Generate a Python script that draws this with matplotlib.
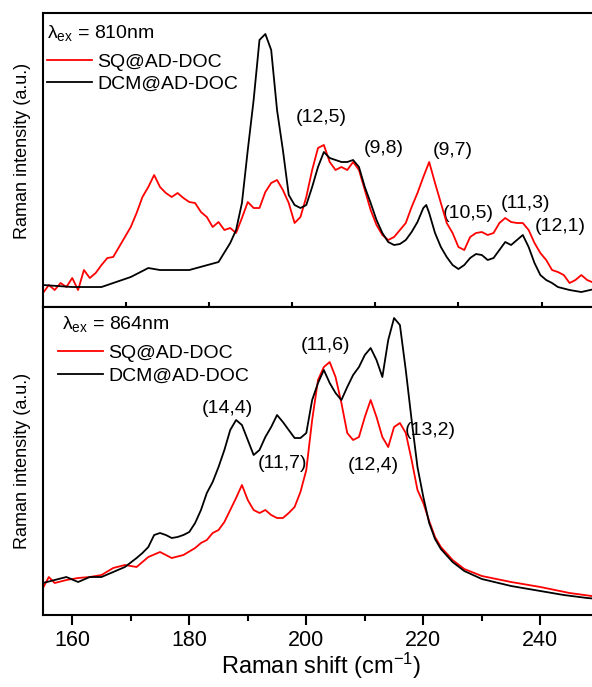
import matplotlib
matplotlib.use('Agg')
import matplotlib.pyplot as plt

plt.rcParams['font.family'] = ['Liberation Sans', 'DejaVu Sans']
plt.rcParams['mathtext.fontset'] = 'custom'
plt.rcParams['mathtext.rm'] = 'Liberation Sans'
plt.rcParams['mathtext.it'] = 'Liberation Sans:italic'

# top panel, 810 nm excitation
top_dcm_x = [155, 160, 165, 170, 173, 175, 180, 185, 187, 188, 189, 190, 191, 192, 193, 194,
             195, 196, 197, 198, 199, 200, 201, 202, 203, 204, 205, 206, 207, 208, 209, 210,
             211, 212, 213, 214, 215, 216, 217, 218, 219, 220, 220.5, 221, 222, 223, 224, 225,
             226, 227, 228, 229, 230, 231, 232, 233, 234, 235, 236, 237, 238, 239, 240, 241,
             242, 243, 245, 247, 250]
top_dcm_y = [22, 20, 20, 30, 39, 37, 37, 45, 64, 77, 104, 157, 207, 267, 273, 257,
             197, 157, 112, 102, 99, 102, 120, 140, 155, 149, 147, 145, 145, 147, 140, 120,
             104, 87, 74, 65, 62, 63, 67, 75, 85, 99, 102, 94, 74, 60, 50, 42,
             38, 42, 49, 53, 52, 47, 49, 57, 65, 62, 67, 72, 60, 44, 32, 27,
             24, 20, 17, 15, 19]

top_sq_x = list(range(155, 249)) + [250]
top_sq_y = [14, 22, 17, 24, 20, 29, 17, 37, 29, 34, 42, 49, 50, 60, 70, 80,
            94, 110, 120, 132, 120, 114, 110, 114, 109, 105, 104, 95, 90, 80, 85, 77,
            79, 74, 89, 105, 99, 99, 115, 124, 127, 117, 104, 84, 90, 110, 137, 159,
            162, 145, 137, 140, 137, 145, 137, 117, 97, 82, 72, 67, 70, 77, 84, 100,
            114, 130, 145, 124, 104, 84, 74, 60, 57, 70, 74, 75, 72, 74, 84, 89,
            85, 84, 84, 77, 64, 54, 47, 37, 35, 32, 24, 27, 32, 27, 22]

# bottom panel, 864 nm excitation
bot_dcm_x = [155, 157, 159, 161, 163, 165, 167, 169, 171, 172, 173, 174, 175, 176, 177, 178,
             179, 180, 181, 182, 183, 184, 185, 186, 187, 188, 189, 190, 191, 192, 193, 194,
             195, 196, 197, 198, 199, 200, 201, 202, 203, 204, 205, 206, 207, 208, 209, 210,
             211, 212, 213, 214, 215, 216, 217, 218, 219, 220, 221, 222, 223, 225, 227, 230,
             235, 240, 244, 248, 250]
bot_dcm_y = [32, 35, 38, 33, 38, 38, 43, 48, 57, 62, 68, 80, 82, 80, 77, 78,
             80, 83, 92, 105, 122, 133, 148, 165, 185, 195, 190, 175, 160, 165, 178, 188,
             200, 193, 185, 177, 177, 182, 215, 232, 245, 232, 222, 215, 228, 240, 248, 260,
             267, 255, 238, 275, 297, 290, 245, 195, 148, 118, 92, 76, 66, 53, 44, 36,
             29, 24, 20, 17, 16]

bot_sq_x = [155, 156, 157, 159, 161, 163, 165, 167, 169, 171, 173, 175, 177, 179, 181, 182,
            183, 184, 185, 186, 187, 188, 189, 190, 191, 192, 193, 194, 195, 196, 197, 198,
            199, 200, 201, 202, 203, 204, 205, 206, 207, 208, 209, 210, 211, 212, 213, 214,
            215, 216, 217, 218, 219, 220, 221, 222, 223, 225, 227, 230, 235, 240, 245, 250]
bot_sq_y = [27, 38, 32, 35, 37, 38, 40, 47, 50, 48, 58, 63, 57, 60, 67, 72,
            75, 82, 85, 93, 105, 117, 130, 115, 105, 102, 105, 100, 97, 97, 102, 108,
            123, 145, 195, 235, 248, 253, 238, 212, 182, 175, 178, 198, 215, 198, 178, 168,
            188, 192, 182, 155, 125, 112, 94, 78, 68, 55, 46, 39, 33, 28, 22, 18]

top_labels = ['(12,5)', '(9,8)', '(9,7)', '(10,5)', '(11,3)', '(12,1)']
top_label_x = [202.6, 213.3, 225.1, 227.6, 237.4, 243.4]
top_label_y = [189, 159, 157, 94, 104, 81]

bot_labels = ['(11,6)', '(14,4)', '(11,7)', '(12,4)', '(13,2)']
bot_label_x = [203.2, 186.5, 196.0, 211.4, 221.2]
bot_label_y = [270, 207, 152, 150, 185]

top_ticks = [169.2, 183.4, 197.6, 211.8, 226.0, 240.2]

fig = plt.figure(figsize=(5.92, 6.87), dpi=100)
ax1 = fig.add_axes([0.0726, 0.5531, 0.939, 0.428])
ax2 = fig.add_axes([0.0726, 0.1048, 0.939, 0.4483])

ax1.plot(top_sq_x, top_sq_y, color='#ff0000', lw=1.3, label='SQ@AD-DOC')
ax1.plot(top_dcm_x, top_dcm_y, color='black', lw=1.3, label='DCM@AD-DOC')
ax2.plot(bot_sq_x, bot_sq_y, color='#ff0000', lw=1.3, label='SQ@AD-DOC')
ax2.plot(bot_dcm_x, bot_dcm_y, color='black', lw=1.3, label='DCM@AD-DOC')

for t, x, y in zip(top_labels, top_label_x, top_label_y):
    ax1.text(x, y, t, fontsize=14, ha='center', va='center', zorder=1)
for t, x, y in zip(bot_labels, bot_label_x, bot_label_y):
    ax2.text(x, y, t, fontsize=14, ha='center', va='center', zorder=1)

ax1.set_xlim(155, 250)
ax1.set_ylim(0, 294)
ax2.set_xlim(155, 250)
ax2.set_ylim(0, 308)

for ax in (ax1, ax2):
    for s in ax.spines.values():
        s.set_linewidth(1.5)
    ax.set_yticks([])
    ax.set_ylabel('Raman intensity (a.u.)', fontsize=13)

ax1.yaxis.set_label_coords(-0.022, 0.53)
ax2.yaxis.set_label_coords(-0.022, 0.50)

ax1.set_xticks(top_ticks)
ax1.tick_params(axis='x', direction='inout', length=7, width=1.5, labelbottom=False)

ax2.set_xticks([160, 180, 200, 220, 240])
ax2.set_xticks([170, 190, 210, 230, 250], minor=True)
ax2.tick_params(axis='x', which='major', direction='out', length=7, width=1.5, labelsize=15.5, pad=4)
ax2.tick_params(axis='x', which='minor', direction='out', length=4, width=1.5)
ax2.set_xlabel('Raman shift (cm$^{-1}$)', fontsize=17, labelpad=0)

ax1.text(0.007, 0.932, 'λ$_{\\rm ex}$ = 810nm', transform=ax1.transAxes, fontsize=14, va='center')
ax2.text(0.034, 0.945, 'λ$_{\\rm ex}$ = 864nm', transform=ax2.transAxes, fontsize=14, va='center')

ax1.legend(loc='upper left', bbox_to_anchor=(0.007, 0.862), frameon=False, fontsize=14,
           handlelength=2.3, handletextpad=0.3, labelspacing=0.2, borderaxespad=0, borderpad=0)
ax2.legend(loc='upper left', bbox_to_anchor=(0.027, 0.878), frameon=False, fontsize=14,
           handlelength=2.3, handletextpad=0.3, labelspacing=0.28, borderaxespad=0, borderpad=0)

fig.savefig('out.png', dpi=100)
